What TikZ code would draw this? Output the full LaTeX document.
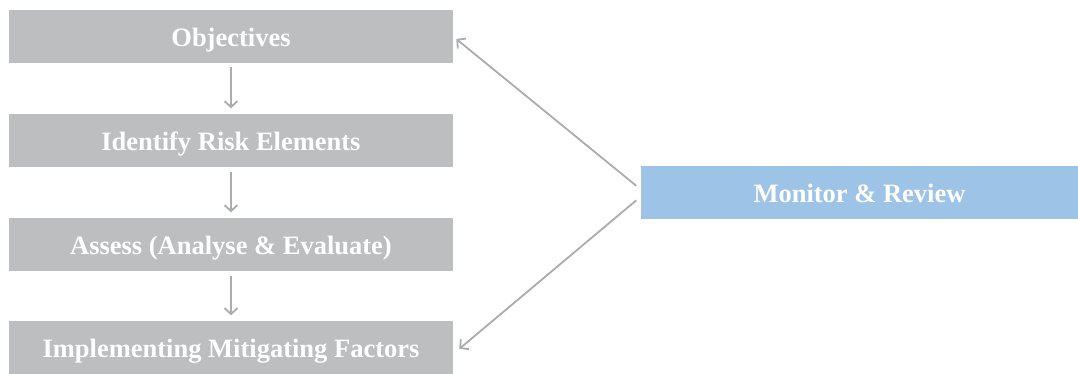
\documentclass[tikz,border=0pt]{standalone}
\usepackage{fontspec}
\setmainfont{Liberation Serif}
\usetikzlibrary{arrows.meta}
\usetikzlibrary{positioning}
\definecolor{mgrey}{RGB}{189, 190, 192}
\definecolor{mblue}{RGB}{157, 195, 230}
\definecolor{marrow}{RGB}{172, 172, 174}
\tikzset{stepbox/.style = {fill=mgrey, text=white, minimum width=444pt,
                           minimum height=53pt, inner sep=0pt,
                           text height=20pt, text depth=0pt,
                           font=\fontsize{26.5}{30}\selectfont\bfseries},
         link/.style = {draw=marrow, line width=1.8pt,
                        -{Straight Barb[length=6pt, width=13pt, line width=1.8pt]}}}

\begin{document}
\begin{tikzpicture}[x=1pt, y=1pt]
    \useasboundingbox (0, 0) rectangle (1078, 374);
    \node [stepbox] (obj) at (231, 337.5) {Objectives};
    \node [stepbox] (ident) at (231, 233) {Identify Risk Elements};
    \node [stepbox] (assess) at (231, 129) {Assess (Analyse \& Evaluate)};
    \node [stepbox] (impl) at (231, 26) {Implementing Mitigating Factors};
    \node [stepbox, fill=mblue, minimum width=437pt] (mon) at (859.5, 181.5) {Monitor \& Review};

    \draw [link, shorten <=4pt, shorten >=6pt] (obj) -- (ident);
    \draw [link, shorten <=4pt, shorten >=6pt] (ident) -- (assess);
    \draw [link, shorten <=4pt, shorten >=6pt] (assess) -- (impl);

    \draw [link, shorten <=6pt, shorten >=4pt] ([yshift=3pt]mon.west) -- (obj.east);
    \draw [link, shorten <=6pt, shorten >=8pt] ([yshift=-4pt]mon.west) -- ([yshift=-6pt]impl.east);
  \end{tikzpicture}
\end{document}
